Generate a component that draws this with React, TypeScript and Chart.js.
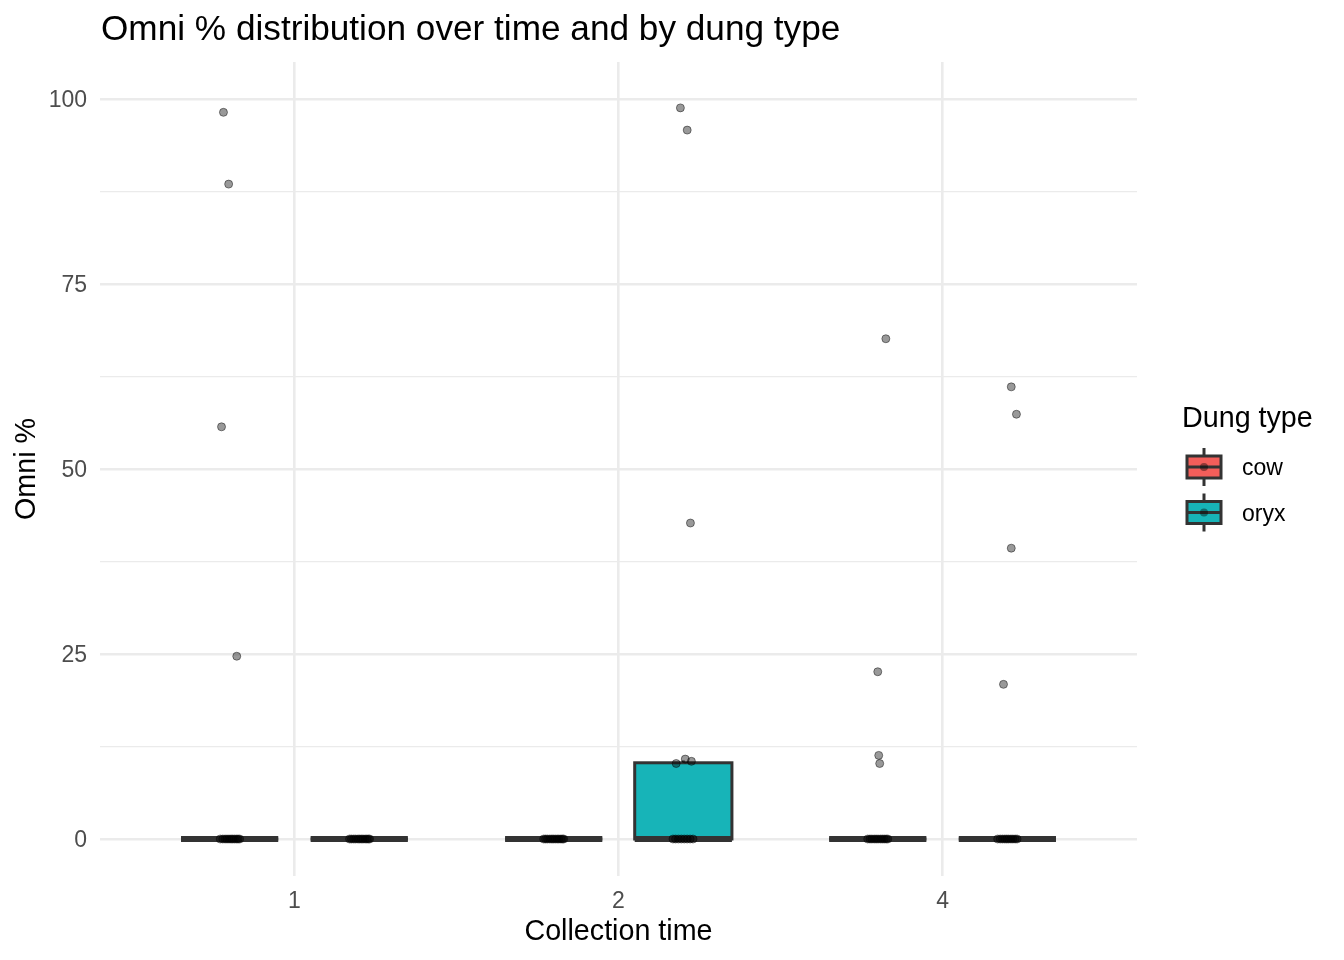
import React, { useEffect, useRef } from 'react';
import { Chart, registerables } from 'chart.js';

Chart.register(...registerables);

// categories
const collectionTimes = ['1', '2', '4'];
const dungTypes = ['cow', 'oryx'];

// box statistics per collection time
const cowLower = [0, 0, 0];
const cowQ1 = [0, 0, 0];
const cowMedian = [0, 0, 0];
const cowQ3 = [0, 0, 0];
const cowUpper = [0, 0, 0];

const oryxLower = [0, 0, 0];
const oryxQ1 = [0, 0, 0];
const oryxMedian = [0, 0, 0];
const oryxQ3 = [0, 10.3, 0];
const oryxUpper = [0, 10.6, 0];

// jittered observations (value, horizontal jitter)
const cowT1Omni = [98.2, 88.5, 55.7, 24.7, 0, 0, 0, 0, 0, 0, 0, 0, 0, 0, 0];
const cowT1Jitter = [-0.019, -0.003, -0.025, 0.022, -0.029, -0.021, -0.014, -0.008, -0.002, 0.004, 0.009, 0.015, 0.021, 0.026, 0.031];
const oryxT1Omni = [0, 0, 0, 0, 0, 0, 0, 0, 0, 0, 0, 0];
const oryxT1Jitter = [-0.03, -0.024, -0.017, -0.011, -0.004, 0.001, 0.007, 0.012, 0.018, 0.023, 0.028, 0.032];
const cowT2Omni = [0, 0, 0, 0, 0, 0, 0, 0, 0, 0, 0, 0];
const cowT2Jitter = [-0.031, -0.025, -0.019, -0.012, -0.006, -0.001, 0.005, 0.011, 0.016, 0.022, 0.027, 0.031];
const oryxT2Omni = [98.8, 95.8, 42.7, 10.2, 10.8, 10.5, 0, 0, 0, 0, 0, 0, 0, 0];
const oryxT2Jitter = [-0.009, 0.012, 0.022, -0.022, 0.006, 0.025, -0.032, -0.024, -0.015, -0.006, 0.003, 0.012, 0.021, 0.03];
const cowT4Omni = [67.6, 22.6, 11.3, 10.2, 0, 0, 0, 0, 0, 0, 0, 0, 0, 0, 0];
const cowT4Jitter = [0.025, 0.0, 0.003, 0.006, -0.031, -0.024, -0.018, -0.011, -0.005, 0.001, 0.008, 0.014, 0.02, 0.026, 0.031];
const oryxT4Omni = [61.1, 57.4, 39.3, 20.9, 0, 0, 0, 0, 0, 0, 0, 0, 0, 0];
const oryxT4Jitter = [0.012, 0.028, 0.012, -0.012, -0.03, -0.022, -0.015, -0.008, -0.002, 0.004, 0.011, 0.017, 0.024, 0.03];

// axis ticks
const yTickValues = [0, 12.5, 25, 37.5, 50, 62.5, 75, 87.5, 100];

const fillColors = ['#F35E5A', '#17B4B8'];
const FONT = '"Liberation Sans", Arial, Helvetica, sans-serif';
const DODGE = 0.2;
const HALF_BOX = 0.15;

const boxStats = [
  [cowLower, cowQ1, cowMedian, cowQ3, cowUpper],
  [oryxLower, oryxQ1, oryxMedian, oryxQ3, oryxUpper],
];

const pointGroups = [
  { time: 0, dung: 0, values: cowT1Omni, jitter: cowT1Jitter },
  { time: 0, dung: 1, values: oryxT1Omni, jitter: oryxT1Jitter },
  { time: 1, dung: 0, values: cowT2Omni, jitter: cowT2Jitter },
  { time: 1, dung: 1, values: oryxT2Omni, jitter: oryxT2Jitter },
  { time: 2, dung: 0, values: cowT4Omni, jitter: cowT4Jitter },
  { time: 2, dung: 1, values: oryxT4Omni, jitter: oryxT4Jitter },
];

const dodged = (time: number, dung: number) => time + 1 + (dung === 0 ? -DODGE : DODGE);

const boxPlugin = {
  id: 'boxes',
  beforeDatasetsDraw(chart: any) {
    const { ctx, scales } = chart;
    const x = scales.x;
    const y = scales.y;
    ctx.save();
    boxStats.forEach((stats, d) => {
      const [lower, q1, median, q3, upper] = stats;
      collectionTimes.forEach((_, t) => {
        const c = dodged(t, d);
        const cx = x.getPixelForValue(c);
        const l = x.getPixelForValue(c - HALF_BOX);
        const r = x.getPixelForValue(c + HALF_BOX);
        const yq1 = y.getPixelForValue(q1[t]);
        const yq3 = y.getPixelForValue(q3[t]);
        ctx.strokeStyle = '#333333';
        ctx.lineWidth = 3;
        ctx.beginPath();
        ctx.moveTo(cx, y.getPixelForValue(upper[t]));
        ctx.lineTo(cx, yq3);
        ctx.moveTo(cx, yq1);
        ctx.lineTo(cx, y.getPixelForValue(lower[t]));
        ctx.stroke();
        ctx.fillStyle = fillColors[d];
        ctx.fillRect(l, yq3, r - l, yq1 - yq3);
        ctx.strokeRect(l, yq3, r - l, yq1 - yq3);
        ctx.lineWidth = 6;
        ctx.beginPath();
        const ym = y.getPixelForValue(median[t]);
        ctx.moveTo(l, ym);
        ctx.lineTo(r, ym);
        ctx.stroke();
      });
    });
    ctx.restore();
  },
  afterDraw(chart: any) {
    const { ctx } = chart;
    ctx.save();
    ctx.fillStyle = '#000000';
    ctx.textAlign = 'left';
    ctx.textBaseline = 'alphabetic';
    ctx.font = `35.2px ${FONT}`;
    ctx.fillText('Omni % distribution over time and by dung type', 101, 40);

    ctx.font = `28.7px ${FONT}`;
    ctx.fillText('Dung type', 1182, 427);

    dungTypes.forEach((name, d) => {
      const cy = 467 + d * 45.5;
      ctx.strokeStyle = '#333333';
      ctx.lineWidth = 3;
      ctx.beginPath();
      ctx.moveTo(1204, cy - 19);
      ctx.lineTo(1204, cy + 19);
      ctx.stroke();
      ctx.fillStyle = fillColors[d];
      ctx.fillRect(1187, cy - 11, 34, 22);
      ctx.strokeRect(1187, cy - 11, 34, 22);
      ctx.beginPath();
      ctx.moveTo(1187, cy);
      ctx.lineTo(1221, cy);
      ctx.stroke();
      ctx.fillStyle = 'rgba(0,0,0,0.4)';
      ctx.beginPath();
      ctx.arc(1204, cy, 4, 0, Math.PI * 2);
      ctx.fill();
      ctx.fillStyle = '#000000';
      ctx.font = `23px ${FONT}`;
      ctx.fillText(name, 1242, cy + 8);
    });
    ctx.restore();
  },
};

const App: React.FC = () => {
  const chartRef = useRef<HTMLCanvasElement>(null);
  const chartInstance = useRef<Chart | null>(null);

  useEffect(() => {
    document.body.style.margin = '0';
    if (chartRef.current) {
      const ctx = chartRef.current.getContext('2d');
      if (ctx) {
        if (chartInstance.current) {
          chartInstance.current.destroy();
        }

        chartInstance.current = new Chart(ctx, {
          type: 'scatter',
          data: {
            datasets: pointGroups.map((g) => ({
              label: `${dungTypes[g.dung]} ${collectionTimes[g.time]}`,
              data: g.values.map((v, i) => ({ x: dodged(g.time, g.dung) + g.jitter[i], y: v })),
              backgroundColor: 'rgba(0,0,0,0.4)',
              borderColor: 'rgba(0,0,0,0.45)',
              borderWidth: 1,
              pointRadius: 4,
            })),
          },
          options: {
            responsive: false,
            animation: false,
            layout: { padding: { top: 62, right: 207, left: 0, bottom: 0 } },
            plugins: {
              legend: { display: false },
              tooltip: { enabled: false },
            },
            scales: {
              x: {
                type: 'linear',
                min: 0.4,
                max: 3.6,
                afterBuildTicks: (axis: any) => {
                  axis.ticks = collectionTimes.map((_, i) => ({ value: i + 1 }));
                },
                afterFit: (axis: any) => {
                  axis.height = 84;
                },
                ticks: {
                  autoSkip: false,
                  maxRotation: 0,
                  padding: 12,
                  color: '#4D4D4D',
                  font: { family: FONT, size: 23 },
                  callback: (v: any) => collectionTimes[Math.round(Number(v)) - 1] ?? '',
                },
                grid: { color: '#EBEBEB', lineWidth: 2.6, drawTicks: false },
                border: { display: false },
                title: {
                  display: true,
                  text: 'Collection time',
                  color: '#000000',
                  font: { family: FONT, size: 28.7 },
                  padding: { top: 0, bottom: 11 },
                },
              },
              y: {
                min: -5,
                max: 105,
                afterBuildTicks: (axis: any) => {
                  axis.ticks = yTickValues.map((v) => ({ value: v }));
                },
                afterFit: (axis: any) => {
                  axis.width = 100;
                },
                ticks: {
                  padding: 13,
                  labelOffset: 2,
                  color: '#4D4D4D',
                  font: { family: FONT, size: 23 },
                  callback: (v: any) => (Number(v) % 25 === 0 ? String(v) : ''),
                },
                grid: {
                  color: '#EBEBEB',
                  lineWidth: (c: any) => (c.tick && c.tick.value % 25 === 0 ? 2.6 : 1.3),
                  drawTicks: false,
                },
                border: { display: false },
                title: {
                  display: true,
                  text: 'Omni %',
                  color: '#000000',
                  font: { family: FONT, size: 28.7 },
                  padding: { top: 10, bottom: 0 },
                },
              },
            },
          },
          plugins: [boxPlugin],
        });
      }
    }

    return () => {
      if (chartInstance.current) {
        chartInstance.current.destroy();
        chartInstance.current = null;
      }
    };
  }, []);

  return (
    <div style={{ width: 1344, height: 960 }}>
      <canvas ref={chartRef} width={1344} height={960} style={{ width: 1344, height: 960 }} />
    </div>
  );
};

export default App;
